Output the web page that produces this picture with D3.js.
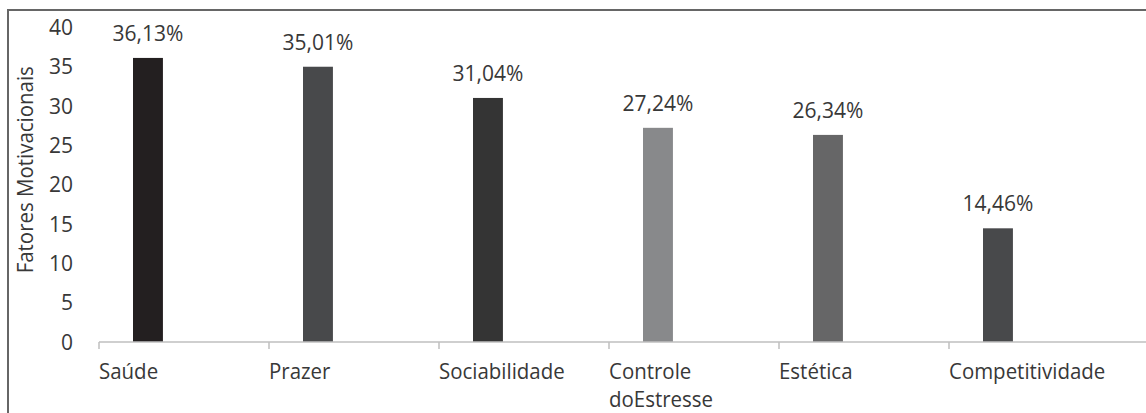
<!DOCTYPE html>
<html>
<head>
<meta charset="utf-8">
<script src="https://cdn.jsdelivr.net/npm/d3@7"></script>
<style>
  html, body { margin: 0; padding: 0; background: #fff; }
  svg { display: block; }
  text { font-family: "Open Sans", "Noto Sans", sans-serif; fill: #383838; }
</style>
</head>
<body>
<svg id="chart" width="1146" height="413"></svg>
<script>
// Motivational factors (percent of respondents)
const categories = ["Saúde", "Prazer", "Sociabilidade", "Controle doEstresse", "Estética", "Competitividade"];
const values = [36.13, 35.01, 31.04, 27.24, 26.34, 14.46];
const valueLabels = ["36,13%", "35,01%", "31,04%", "27,24%", "26,34%", "14,46%"];
const barColors = ["#231f20", "#48494b", "#343434", "#88898b", "#666667", "#48494b"];
const yTicks = [0, 5, 10, 15, 20, 25, 30, 35, 40];
const yTitle = "Fatores Motivacionais";

const svg = d3.select("#chart");

// Frame of the chart area
svg.append("rect")
  .attr("x", 8).attr("y", 10)
  .attr("width", 1300).attr("height", 600)
  .attr("fill", "none")
  .attr("stroke", "#666")
  .attr("stroke-width", 2);

const x = d3.scaleBand().domain(categories).range([99, 1119]).padding(0);
const y = d3.scaleLinear().domain([0, 40]).range([342, 27.5]);
const bw = x.bandwidth();
const barX = (d) => x(d) + bw * 0.2;
const barW = bw * 0.176;

// Bars
svg.append("g").selectAll("rect")
  .data(categories)
  .join("rect")
  .attr("x", barX)
  .attr("width", barW)
  .attr("y", (d, i) => y(values[i]))
  .attr("height", (d, i) => y(0) - y(values[i]))
  .attr("fill", (d, i) => barColors[i]);

// Value labels above bars
svg.append("g").selectAll("text")
  .data(categories)
  .join("text")
  .attr("x", (d) => barX(d) + barW / 2)
  .attr("y", (d, i) => y(values[i]) - 17)
  .attr("text-anchor", "middle")
  .style("font-size", "21px")
  .text((d, i) => valueLabels[i]);

// Horizontal axis line and category ticks
svg.append("line")
  .attr("x1", x(categories[0])).attr("x2", 1146)
  .attr("y1", y(0)).attr("y2", y(0))
  .attr("stroke", "#bfbfbf").attr("stroke-width", 1.5);

svg.append("g").selectAll("line")
  .data(categories)
  .join("line")
  .attr("x1", (d) => x(d)).attr("x2", (d) => x(d))
  .attr("y1", y(0)).attr("y2", y(0) + 7)
  .attr("stroke", "#bfbfbf").attr("stroke-width", 1.5);

// Category labels (wrapped onto two lines where needed), slightly condensed
const catG = svg.append("g");
categories.forEach((c) => {
  const t = catG.append("text")
    .attr("transform", `translate(${x(c)}, 379) scale(0.93, 1)`)
    .style("font-size", "22px");
  c.split(" ").forEach((w, j) => {
    t.append("tspan").attr("x", 0).attr("dy", j === 0 ? 0 : 28).text(w);
  });
});

// Vertical axis tick labels
svg.append("g").selectAll("text")
  .data(yTicks)
  .join("text")
  .attr("x", 73)
  .attr("y", (d) => y(d))
  .attr("dy", "0.36em")
  .attr("text-anchor", "end")
  .style("font-size", "21px")
  .text((d) => d);

// Vertical axis title
svg.append("text")
  .attr("transform", `translate(33, ${(y(0) + y(40)) / 2 - 15}) rotate(-90) scale(0.93, 1)`)
  .attr("text-anchor", "middle")
  .style("font-size", "22px")
  .text(yTitle);
</script>
</body>
</html>
